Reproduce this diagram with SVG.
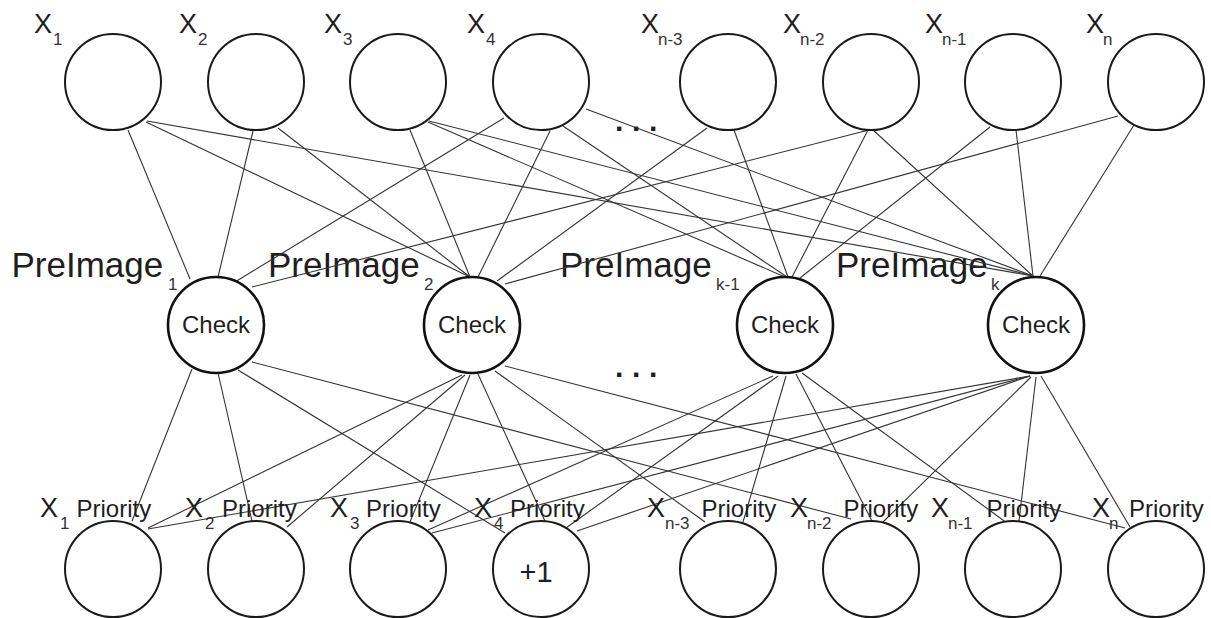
<svg xmlns="http://www.w3.org/2000/svg" width="1211" height="618" viewBox="0 0 1211 618">
  <style>
    text { font-family: "Liberation Sans", Arial, Helvetica, sans-serif; fill: #1e1e1e; }
    .var { fill: #fff; stroke: #1a1a1a; stroke-width: 2; }
    .chk { fill: #fff; stroke: #111; stroke-width: 2.6; }
    .edges line { stroke: #333; stroke-width: 1.1; }
    .x { font-size: 27px; }
    .sub { font-size: 17px; fill: #333; }
    .pre { font-size: 35px; }
    .pri { font-size: 24px; }
    .ct { font-size: 24px; text-anchor: middle; }
    .big { font-size: 29px; text-anchor: middle; }
    .dots { font-size: 30px; font-weight: bold; letter-spacing: 8.7px; }
  </style>

  <!-- labels of the check layer (lines run over them) -->
  <g id="preimage-labels">
    <text class="pre" x="11.5" y="277">PreImage</text><text class="sub" x="168" y="290">1</text>
    <text class="pre" x="268" y="277">PreImage</text><text class="sub" x="424" y="290">2</text>
    <text class="pre" x="560" y="277">PreImage</text><text class="sub" x="716" y="290">k-1</text>
    <text class="pre" x="836" y="277">PreImage</text><text class="sub" x="991" y="290">k</text>
  </g>

  <!-- connectors: variables -> checks, checks -> priorities -->
  <g id="connectors" class="edges">
    <line x1="128" y1="130" x2="190" y2="279"/>
    <line x1="146" y1="122" x2="470" y2="277"/>
    <line x1="147" y1="121" x2="1033" y2="276"/>
    <line x1="253" y1="131" x2="218" y2="277"/>
    <line x1="278" y1="128" x2="470" y2="277"/>
    <line x1="410" y1="130" x2="470" y2="277"/>
    <line x1="428" y1="122" x2="785" y2="277"/>
    <line x1="429" y1="121" x2="1033" y2="276"/>
    <line x1="504" y1="118" x2="235" y2="282"/>
    <line x1="550" y1="131" x2="478" y2="277"/>
    <line x1="563" y1="126" x2="787" y2="277"/>
    <line x1="586" y1="109" x2="1033" y2="276"/>
    <line x1="707" y1="128" x2="497" y2="281"/>
    <line x1="734" y1="130" x2="788" y2="277"/>
    <line x1="869" y1="130" x2="252" y2="287"/>
    <line x1="868" y1="130" x2="792" y2="277"/>
    <line x1="873" y1="130" x2="1033" y2="276"/>
    <line x1="990" y1="127" x2="800" y2="278"/>
    <line x1="1016" y1="130" x2="1033" y2="276"/>
    <line x1="1118" y1="116" x2="505" y2="284"/>
    <line x1="1134" y1="125" x2="1040" y2="276"/>

    <line x1="192" y1="369" x2="132" y2="521"/>
    <line x1="218" y1="373" x2="252" y2="521"/>
    <line x1="238" y1="370" x2="505" y2="533"/>
    <line x1="252" y1="362" x2="851" y2="519"/>
    <line x1="462" y1="375" x2="148" y2="528"/>
    <line x1="465" y1="375" x2="287" y2="527"/>
    <line x1="470" y1="375" x2="410" y2="522"/>
    <line x1="478" y1="374" x2="545" y2="521"/>
    <line x1="495" y1="371" x2="705" y2="522"/>
    <line x1="505" y1="366" x2="1125" y2="528"/>
    <line x1="773" y1="376" x2="428" y2="530"/>
    <line x1="778" y1="376" x2="566" y2="528"/>
    <line x1="786" y1="376" x2="743" y2="522"/>
    <line x1="796" y1="374" x2="872" y2="521"/>
    <line x1="802" y1="373" x2="1007" y2="523"/>
    <line x1="1030" y1="376" x2="148" y2="529"/>
    <line x1="1030" y1="376" x2="432" y2="533"/>
    <line x1="1030" y1="376" x2="577" y2="531"/>
    <line x1="1031" y1="377" x2="883" y2="522"/>
    <line x1="1036" y1="377" x2="1019" y2="521"/>
    <line x1="1041" y1="376" x2="1130" y2="527"/>
  </g>

  <!-- input variables -->
  <g id="x1"><circle class="var" cx="113" cy="82" r="48"/><text class="x" x="34" y="33">X</text><text class="sub" x="53" y="45">1</text></g>
  <g id="x2"><circle class="var" cx="256" cy="82" r="48"/><text class="x" x="179" y="33">X</text><text class="sub" x="198" y="45">2</text></g>
  <g id="x3"><circle class="var" cx="398" cy="82" r="48"/><text class="x" x="324" y="33">X</text><text class="sub" x="343" y="45">3</text></g>
  <g id="x4"><circle class="var" cx="541" cy="82" r="48"/><text class="x" x="467" y="33">X</text><text class="sub" x="486" y="45">4</text></g>
  <g id="xn-3"><circle class="var" cx="728" cy="82" r="48"/><text class="x" x="641" y="33">X</text><text class="sub" x="658" y="45">n-3</text></g>
  <g id="xn-2"><circle class="var" cx="871" cy="82" r="48"/><text class="x" x="783" y="33">X</text><text class="sub" x="800" y="45">n-2</text></g>
  <g id="xn-1"><circle class="var" cx="1013" cy="82" r="48"/><text class="x" x="925" y="33">X</text><text class="sub" x="942" y="45">n-1</text></g>
  <g id="xn"><circle class="var" cx="1156" cy="82" r="48"/><text class="x" x="1086" y="33">X</text><text class="sub" x="1103" y="45">n</text></g>
  <text id="dots-top" class="dots" x="615" y="131">...</text>

  <!-- check nodes -->
  <g id="check1"><circle class="chk" cx="216" cy="325" r="48"/><text class="ct" x="216" y="333">Check</text></g>
  <g id="check2"><circle class="chk" cx="472" cy="325" r="48"/><text class="ct" x="472" y="333">Check</text></g>
  <g id="check-k-1"><circle class="chk" cx="785" cy="325" r="48"/><text class="ct" x="785" y="333">Check</text></g>
  <g id="check-k"><circle class="chk" cx="1036" cy="325" r="48"/><text class="ct" x="1036" y="333">Check</text></g>
  <text id="dots-mid" class="dots" x="615" y="377">...</text>

  <!-- priority nodes -->
  <g id="p1"><circle class="var" cx="113" cy="569" r="48"/><text class="x" x="40" y="517">X</text><text class="sub" x="60" y="529">1</text><text class="pri" x="76.5" y="517">Priority</text></g>
  <g id="p2"><circle class="var" cx="256" cy="569" r="48"/><text class="x" x="185" y="517">X</text><text class="sub" x="205" y="529">2</text><text class="pri" x="222" y="517">Priority</text></g>
  <g id="p3"><circle class="var" cx="398" cy="569" r="48"/><text class="x" x="330" y="517">X</text><text class="sub" x="350" y="529">3</text><text class="pri" x="366" y="517">Priority</text></g>
  <g id="p4"><circle class="var" cx="541" cy="569" r="48"/><text class="x" x="474" y="517">X</text><text class="sub" x="494" y="529">4</text><text class="pri" x="510" y="517">Priority</text><text class="big" x="536" y="582">+1</text></g>
  <g id="pn-3"><circle class="var" cx="728" cy="569" r="48"/><text class="x" x="647" y="517">X</text><text class="sub" x="665" y="529">n-3</text><text class="pri" x="701.5" y="517">Priority</text></g>
  <g id="pn-2"><circle class="var" cx="871" cy="569" r="48"/><text class="x" x="790" y="517">X</text><text class="sub" x="807" y="529">n-2</text><text class="pri" x="843.5" y="517">Priority</text></g>
  <g id="pn-1"><circle class="var" cx="1013" cy="569" r="48"/><text class="x" x="931" y="517">X</text><text class="sub" x="948" y="529">n-1</text><text class="pri" x="986.5" y="517">Priority</text></g>
  <g id="pn"><circle class="var" cx="1156" cy="569" r="48"/><text class="x" x="1092" y="517">X</text><text class="sub" x="1109" y="529">n</text><text class="pri" x="1129" y="517">Priority</text></g>
</svg>
